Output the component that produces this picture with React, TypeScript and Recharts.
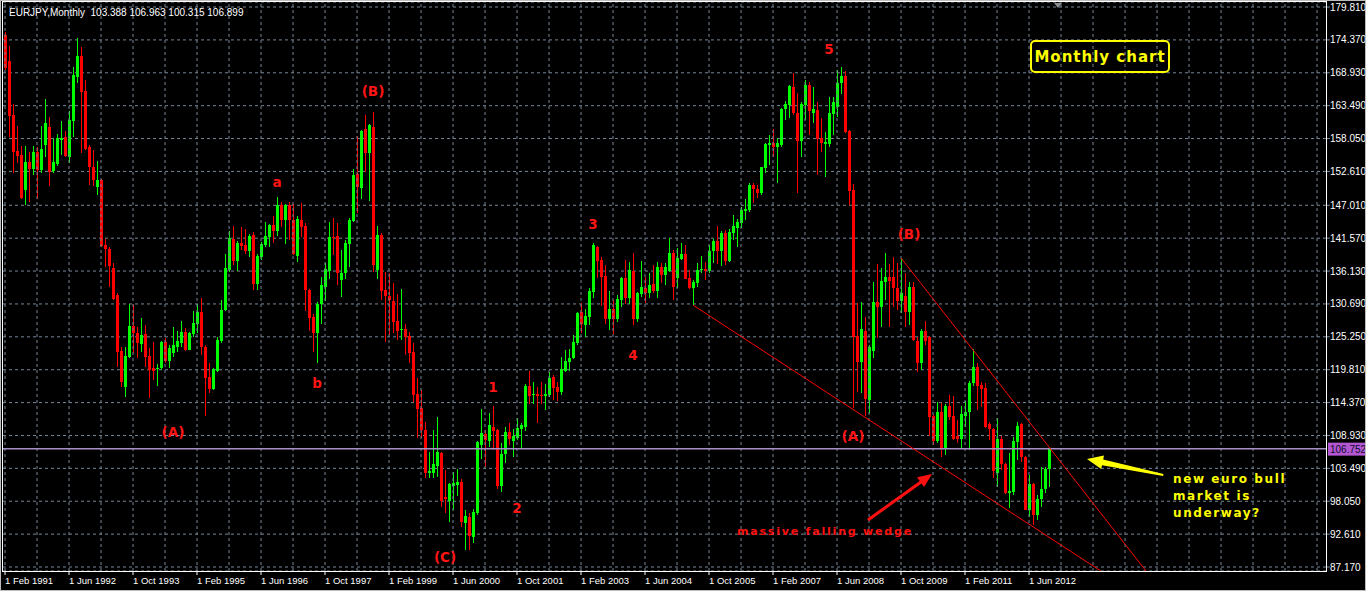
import React from 'react';
import {
  ComposedChart, Bar, XAxis, YAxis, CartesianGrid, ReferenceLine, ReferenceDot
} from 'recharts';

// EURJPY monthly candles, Feb 1991 .. Nov 2012
const opens = [
  175.2, 170.9, 161.9, 156.0, 155.3, 149.5, 154.2, 153.0, 155.8, 152.8, 157.0, 160.0, 152.7, 153.8, 157.8, 158.3,
  155.0, 161.0, 168.2, 171.7, 165.9, 156.7, 153.3, 150.0, 151.2, 140.4, 139.8, 136.6, 132.2, 122.9, 117.0, 121.9,
  127.0, 125.9, 124.1, 125.7, 122.1, 120.1, 119.9, 120.1, 124.4, 121.3, 122.6, 123.6, 124.2, 126.0, 123.1, 125.7,
  127.4, 129.4, 123.6, 118.6, 116.6, 119.6, 124.6, 129.7, 136.3, 141.4, 137.8, 140.8, 140.4, 139.5, 142.1, 134.0,
  138.5, 140.4, 141.8, 143.8, 142.8, 147.1, 144.6, 147.1, 144.6, 138.6, 144.6, 143.6, 133.0, 128.5, 125.9, 130.7,
  133.5, 136.1, 141.8, 141.9, 134.7, 135.8, 140.6, 144.4, 152.2, 149.9, 159.6, 155.7, 160.0, 136.3, 142.1, 133.0,
  132.0, 131.2, 127.9, 126.4, 126.5, 125.4, 122.7, 115.8, 113.5, 109.8, 102.7, 102.7, 103.9, 106.0, 98.8, 98.1,
  100.6, 100.7, 101.2, 94.5, 95.4, 92.1, 96.1, 107.4, 109.2, 108.0, 110.3, 109.8, 100.6, 105.9, 109.5, 108.0,
  108.5, 110.0, 110.3, 117.1, 115.6, 115.8, 115.6, 115.5, 115.6, 118.6, 116.9, 116.1, 119.6, 121.1, 121.8, 124.2,
  129.4, 127.2, 128.5, 132.7, 140.1, 138.0, 135.3, 128.2, 129.9, 128.2, 131.3, 135.0, 131.7, 136.1, 128.2, 132.3,
  133.3, 132.5, 134.0, 132.8, 136.8, 135.5, 136.1, 139.1, 135.0, 138.1, 139.0, 135.0, 133.3, 134.2, 136.4, 136.5,
  136.1, 139.5, 141.1, 139.5, 142.4, 137.8, 142.4, 143.3, 144.1, 146.1, 146.2, 150.4, 149.7, 149.0, 153.2, 157.0,
  157.3, 156.7, 157.0, 162.9, 163.6, 166.6, 162.3, 157.6, 163.6, 166.9, 162.3, 162.8, 158.1, 157.2, 157.2, 162.1,
  163.3, 167.2, 168.4, 159.3, 149.5, 125.4, 121.1, 126.2, 114.8, 122.9, 131.0, 130.2, 134.3, 135.2, 135.2, 133.3,
  131.2, 132.0, 129.4, 133.5, 124.6, 120.9, 126.2, 125.2, 112.2, 108.0, 112.8, 106.9, 113.8, 112.2, 108.8, 108.4,
  112.2, 112.8, 117.6, 120.3, 117.3, 116.8, 110.8, 110.0, 102.7, 108.4, 104.2, 99.4, 99.6, 107.9, 110.8, 105.4,
  96.6, 100.9, 95.8, 98.4, 100.1, 103.388
];
const highs = [
  175.7, 173.4, 163.8, 160.1, 156.8, 156.8, 155.8, 156.8, 156.7, 160.1, 164.6, 161.6, 158.0, 158.8, 161.0, 159.3,
  162.6, 169.9, 174.7, 173.2, 167.7, 157.0, 156.2, 154.3, 151.4, 141.4, 140.1, 137.5, 132.5, 123.6, 123.6, 130.7,
  130.7, 126.9, 128.4, 127.2, 123.4, 124.4, 120.8, 124.6, 125.1, 123.9, 126.9, 126.2, 127.9, 126.7, 126.0, 129.5,
  130.7, 131.7, 123.9, 120.9, 120.1, 125.2, 131.3, 139.0, 142.8, 143.6, 141.1, 143.4, 143.1, 142.3, 142.6, 139.0,
  140.9, 144.2, 143.9, 145.2, 148.4, 147.6, 147.2, 147.6, 147.2, 145.2, 147.4, 144.1, 133.2, 129.0, 131.0, 135.2,
  137.5, 144.2, 144.9, 144.1, 139.6, 141.3, 144.9, 153.0, 158.5, 159.5, 161.9, 160.4, 162.4, 143.6, 142.4, 136.0,
  135.8, 134.2, 132.3, 133.2, 127.4, 126.0, 124.2, 118.4, 116.5, 111.2, 106.2, 109.8, 112.0, 106.2, 103.2, 101.1,
  102.9, 103.4, 101.7, 96.6, 96.1, 96.8, 108.0, 113.3, 109.8, 112.6, 113.8, 110.0, 107.7, 110.3, 111.0, 110.0,
  111.8, 111.0, 117.4, 119.6, 117.8, 117.0, 117.8, 117.4, 119.4, 118.9, 117.8, 121.9, 123.1, 123.2, 125.6, 129.4,
  130.9, 129.9, 133.3, 140.8, 140.3, 138.5, 137.1, 132.8, 131.3, 132.2, 135.2, 138.0, 137.6, 139.1, 132.7, 137.8,
  135.2, 135.8, 137.1, 137.6, 137.5, 137.5, 141.6, 139.6, 139.9, 140.8, 140.4, 136.3, 134.6, 137.5, 138.6, 137.6,
  140.4, 141.4, 143.6, 142.8, 142.9, 143.1, 145.4, 144.7, 146.7, 148.1, 150.7, 150.7, 150.4, 153.4, 157.3, 158.6,
  159.6, 158.1, 163.1, 164.3, 166.9, 168.9, 165.6, 164.1, 167.7, 167.4, 166.6, 164.1, 161.5, 159.1, 164.9, 164.9,
  169.4, 169.9, 169.2, 159.5, 150.5, 130.9, 131.0, 128.5, 123.9, 134.3, 137.3, 136.6, 139.1, 137.3, 138.5, 137.5,
  138.3, 135.8, 134.3, 134.3, 125.2, 126.5, 127.9, 125.4, 112.3, 114.5, 114.3, 114.1, 115.6, 115.5, 111.5, 113.8,
  114.6, 117.9, 123.2, 120.9, 117.8, 117.6, 111.2, 110.1, 111.8, 108.8, 104.4, 106.0, 108.7, 111.2, 111.0, 105.5,
  102.4, 101.1, 99.1, 103.7, 103.7, 106.963
];
const lows = [
  169.4, 158.3, 152.4, 154.0, 148.0, 147.1, 147.6, 152.0, 148.1, 152.4, 155.0, 150.2, 152.4, 153.5, 155.3, 155.0,
  154.0, 158.3, 167.2, 155.7, 156.2, 150.4, 150.2, 148.6, 140.1, 136.8, 133.5, 131.3, 120.3, 117.0, 115.3, 121.8,
  122.6, 121.8, 122.7, 120.3, 115.1, 118.1, 117.1, 119.8, 120.9, 120.1, 121.9, 122.7, 123.6, 122.9, 123.0, 125.2,
  125.9, 122.2, 112.2, 116.0, 116.5, 119.4, 124.2, 129.5, 136.0, 137.1, 136.1, 139.6, 139.0, 138.5, 133.0, 133.0,
  138.0, 140.1, 140.1, 140.8, 141.9, 143.4, 140.6, 141.3, 138.8, 137.6, 141.8, 129.5, 126.2, 122.7, 120.9, 127.5,
  131.2, 134.7, 138.8, 133.8, 131.8, 134.8, 136.8, 144.2, 145.7, 148.1, 152.5, 147.6, 136.0, 134.8, 131.3, 124.4,
  125.6, 125.9, 124.7, 124.7, 122.2, 120.9, 114.5, 108.4, 108.5, 101.9, 101.9, 101.9, 102.1, 97.1, 96.1, 94.6,
  96.6, 98.9, 93.8, 90.0, 90.0, 91.1, 95.8, 105.0, 103.7, 107.0, 106.5, 100.1, 99.6, 104.4, 107.4, 105.4,
  108.2, 106.9, 109.7, 114.1, 114.1, 111.0, 114.1, 113.1, 115.3, 114.8, 114.6, 115.6, 119.4, 119.6, 121.6, 123.9,
  125.9, 125.2, 127.2, 131.7, 135.0, 130.4, 127.4, 126.4, 125.6, 127.7, 130.2, 130.7, 130.7, 127.2, 127.7, 131.8,
  130.9, 131.7, 132.5, 131.7, 134.2, 133.8, 136.0, 131.3, 133.3, 138.0, 134.7, 133.2, 130.5, 133.5, 135.8, 134.7,
  135.8, 137.5, 137.3, 137.0, 137.1, 137.6, 141.3, 140.1, 143.3, 144.7, 145.9, 147.4, 148.2, 148.7, 152.4, 153.7,
  155.0, 150.7, 156.7, 161.1, 161.5, 161.9, 149.0, 155.0, 161.1, 158.6, 160.6, 152.0, 155.8, 151.7, 156.7, 158.6,
  161.6, 165.4, 159.0, 147.1, 113.5, 116.1, 116.0, 112.2, 112.7, 121.8, 125.1, 126.9, 131.3, 126.9, 130.2, 129.7,
  129.2, 126.9, 127.2, 124.6, 119.4, 119.8, 123.9, 108.8, 107.4, 107.7, 105.4, 105.7, 111.5, 108.2, 107.7, 106.9,
  110.3, 106.5, 117.0, 113.1, 113.6, 110.2, 108.2, 101.9, 100.4, 103.2, 99.3, 96.9, 99.1, 104.9, 104.5, 96.5,
  95.4, 94.1, 95.0, 97.1, 99.4, 100.315
];
const closes = [
  169.7, 161.8, 155.8, 155.2, 148.2, 154.2, 153.0, 155.8, 152.8, 156.3, 160.6, 152.5, 154.2, 158.1, 158.1, 155.2,
  161.1, 168.6, 171.7, 165.8, 156.3, 153.3, 151.2, 151.2, 140.3, 139.8, 137.0, 131.5, 122.7, 117.8, 122.1, 127.0,
  125.9, 124.2, 125.6, 121.9, 119.8, 119.6, 120.1, 124.4, 121.3, 123.4, 123.9, 124.6, 126.0, 123.1, 125.9, 127.5,
  129.4, 123.6, 118.4, 116.6, 119.9, 124.7, 129.7, 136.6, 141.6, 137.8, 140.8, 140.3, 139.5, 141.9, 134.0, 138.6,
  140.6, 141.9, 143.8, 142.8, 147.1, 144.6, 147.1, 144.6, 139.0, 144.7, 143.4, 133.0, 128.4, 125.9, 130.7, 133.8,
  136.5, 141.8, 141.6, 135.8, 135.8, 140.8, 144.6, 152.0, 150.0, 159.3, 155.7, 160.3, 137.1, 142.1, 132.8, 132.0,
  131.3, 127.7, 126.2, 126.5, 125.2, 122.6, 115.6, 113.3, 109.8, 102.7, 103.1, 104.2, 106.2, 98.1, 98.4, 100.9,
  101.1, 101.2, 94.6, 95.6, 92.3, 96.3, 107.9, 109.3, 108.2, 110.7, 109.7, 100.6, 105.9, 109.5, 108.4, 108.8,
  110.2, 110.7, 117.1, 115.5, 115.8, 115.5, 115.5, 115.8, 118.4, 116.8, 116.1, 119.9, 121.3, 121.8, 124.4, 129.2,
  127.4, 128.7, 132.8, 140.4, 137.8, 135.2, 128.2, 129.9, 128.2, 131.5, 135.0, 131.7, 136.3, 128.2, 132.5, 133.5,
  132.5, 133.8, 132.8, 136.8, 135.5, 136.8, 139.1, 133.5, 138.3, 139.0, 134.8, 133.3, 134.3, 136.3, 136.5, 136.1,
  139.5, 141.1, 139.5, 142.4, 137.8, 142.6, 143.6, 144.2, 146.2, 146.4, 150.4, 149.7, 149.0, 153.3, 157.2, 157.3,
  156.7, 157.3, 162.9, 163.8, 166.7, 162.3, 157.6, 163.8, 166.9, 162.6, 162.9, 158.0, 157.3, 157.5, 162.3, 164.1,
  167.2, 168.4, 159.1, 149.4, 125.2, 121.1, 126.5, 115.0, 123.6, 131.0, 130.2, 134.5, 135.2, 134.5, 133.3, 131.2,
  132.5, 129.4, 133.5, 124.7, 120.9, 126.2, 124.6, 112.0, 108.0, 112.8, 106.9, 113.8, 112.0, 108.4, 108.4, 112.5,
  112.8, 117.6, 120.3, 117.1, 116.6, 110.3, 110.0, 103.1, 108.4, 104.2, 99.4, 99.8, 108.0, 110.5, 105.4, 96.6,
  100.9, 95.8, 98.4, 100.1, 103.4, 106.899
];

const MONTH_NAMES = ['Jan', 'Feb', 'Mar', 'Apr', 'May', 'Jun', 'Jul', 'Aug', 'Sep', 'Oct', 'Nov', 'Dec'];
const FIRST_YEAR = 1991;
const FIRST_MONTH = 1; // Feb
const SLOTS = 331; // bars plus empty space to the right

const months = Array.from({ length: SLOTS }, (_, i) => {
  const m = FIRST_MONTH + i;
  return `1 ${MONTH_NAMES[m % 12]} ${FIRST_YEAR + Math.floor(m / 12)}`;
});

const dateTicks = [
  '1 Feb 1991', '1 Jun 1992', '1 Oct 1993', '1 Feb 1995', '1 Jun 1996', '1 Oct 1997', '1 Feb 1999',
  '1 Jun 2000', '1 Oct 2001', '1 Feb 2003', '1 Jun 2004', '1 Oct 2005', '1 Feb 2007', '1 Jun 2008',
  '1 Oct 2009', '1 Feb 2011', '1 Jun 2012'
];
const gridMonths = months.filter((_, i) => i % 8 === 0);

const priceTicks = [
  179.81, 174.37, 168.93, 163.49, 158.05, 152.61, 147.01, 141.57, 136.13,
  130.69, 125.25, 119.81, 114.37, 108.93, 103.49, 98.05, 92.61, 87.17
];
const bidPrice = 106.752;

// wedge lines: [bar index, price]
const upperWedge = [[224, 138.3], [290, 82.5]];
const lowerWedge = [[172, 130.5], [275, 86.06]];

// wave labels: [bar index, price, text]
const waveLabels: [number, number, string][] = [
  [42, 109.5, '(A)'], [68, 150.9, 'a'], [78, 117.6, 'b'], [92, 165.9, '(B)'], [110, 88.8, '(C)'],
  [122, 117.0, '1'], [128, 96.9, '2'], [147, 143.9, '3'], [157, 122.2, '4'], [206, 172.9, '5'],
  [212, 108.8, '(A)'], [226, 142.3, '(B)']
];
const notes: [number, number, string, string][] = [
  [183, 93.1, 'massive falling wedge', '#ff1010'],
  [292, 101.7, 'new euro bull', '#ffff00'],
  [292, 98.9, 'market is', '#ffff00'],
  [292, 96.1, 'underway?', '#ffff00']
];

const data = months.map((month, i) => ({
  month, o: opens[i], h: highs[i], l: lows[i], c: closes[i]
}));

const UP = '#00ff00';
const DOWN = '#ff0000';
const GRID = '#778899';

const Candle = (props: any) => {
  const { x, width, payload } = props;
  let { y, height } = props;
  if (!payload || payload.o == null || !height) return null;
  if (height < 0) { y += height; height = -height; }
  const { o, h, l, c } = payload;
  const k = height / (h - l);
  const yOf = (v: number) => y + (h - v) * k;
  const color = c >= o ? UP : DOWN;
  const cx = Math.floor(x + width / 2);
  const top = Math.round(yOf(Math.max(o, c)));
  const bot = Math.round(yOf(Math.min(o, c)));
  return (
    <g>
      <rect x={cx} y={Math.round(y)} width={1} height={Math.max(1, Math.round(height))} fill={color} />
      <rect x={cx - 1} y={top} width={3} height={Math.max(1, bot - top)} fill={color} />
    </g>
  );
};

const PriceTick = ({ x, y, payload }: any) => (
  <text x={x} y={y} dy={3.5} fill="#ffffff" fontSize={10} fontFamily="Liberation Sans, Arial" textAnchor="start">
    {Number(payload.value).toFixed(3)}
  </text>
);

const DateTick = ({ x, y, payload }: any) => (
  <text x={x} y={y} dy={9} fill="#ffffff" fontSize={9.5} fontFamily="Liberation Sans, Arial" textAnchor="start">
    {payload.value}
  </text>
);

const BidLabel = ({ viewBox }: any) => {
  if (!viewBox) return null;
  const bx = viewBox.x + viewBox.width + 1;
  return (
    <g>
      <rect x={bx} y={viewBox.y - 6} width={38} height={13} fill="#b457d3" />
      <text x={bx + 2} y={viewBox.y + 4} fill="#0a0a28" fontSize={10} fontFamily="Liberation Sans, Arial">
        {bidPrice.toFixed(3)}
      </text>
    </g>
  );
};

const textShape = (text: string, color: string, size: number, anchor: string, spacing = 0) => (p: any) => (
  <text
    x={p.cx} y={p.cy} fill={color} fontSize={size} fontWeight="bold" fontFamily="DejaVu Sans, Verdana"
    textAnchor={anchor} dominantBaseline="central" letterSpacing={spacing}
  >
    {text}
  </text>
);

const App: React.FC = () => {
  return (
    <div style={{ position: 'fixed', left: 0, top: 0, width: 1366, height: 591, background: '#000' }}>
      <ComposedChart
        width={1366}
        height={591}
        data={data}
        margin={{ top: 2, right: 0, bottom: 0, left: 3 }}
        barCategoryGap={0}
        barGap={0}
      >
        <CartesianGrid stroke={GRID} strokeDasharray="3 3" vertical={false} />
        {gridMonths.map((m) => (
          <ReferenceLine key={m} x={m} stroke={GRID} strokeDasharray="3 3" />
        ))}
        <XAxis
          dataKey="month"
          type="category"
          ticks={dateTicks}
          interval={0}
          height={20}
          axisLine={false}
          tickLine={{ stroke: '#ffffff' }}
          tickSize={4}
          tickMargin={0}
          tick={<DateTick />}
        />
        <YAxis
          orientation="right"
          type="number"
          domain={[86.51, 180.64]}
          allowDataOverflow
          ticks={priceTicks}
          interval={0}
          width={39}
          axisLine={false}
          tickLine={{ stroke: GRID }}
          tickSize={3}
          tickMargin={0}
          tick={<PriceTick />}
        />
        <Bar
          dataKey={(d: any) => (d.h == null ? null : [d.l, d.h])}
          shape={<Candle />}
          isAnimationActive={false}
        />
        <ReferenceLine y={bidPrice} stroke="#a98fc9" strokeWidth={1.5} label={<BidLabel />} />
        <ReferenceLine
          segment={[{ x: months[upperWedge[0][0]], y: upperWedge[0][1] }, { x: months[upperWedge[1][0]], y: upperWedge[1][1] }]}
          stroke="#ff0000"
          ifOverflow="hidden"
        />
        <ReferenceLine
          segment={[{ x: months[lowerWedge[0][0]], y: lowerWedge[0][1] }, { x: months[lowerWedge[1][0]], y: lowerWedge[1][1] }]}
          stroke="#ff0000"
          ifOverflow="hidden"
        />
        {waveLabels.map(([i, p, t], k) => (
          <ReferenceDot key={`w${k}`} x={months[i]} y={p} r={0} shape={textShape(t, '#ff1414', 13.5, 'middle')} />
        ))}
        <ReferenceDot x={months[notes[0][0]]} y={notes[0][1]} r={0} shape={textShape(notes[0][2], notes[0][3], 11, 'start', 1.8)} />
        {notes.slice(1).map(([i, p, t, col], k) => (
          <ReferenceDot key={`n${k}`} x={months[i]} y={p} r={0} shape={textShape(t, col, 12, 'start', 1.6)} />
        ))}
      </ComposedChart>

      <svg width={1366} height={591} style={{ position: 'absolute', left: 0, top: 0, pointerEvents: 'none' }}>
        <rect x={0.5} y={0.5} width={1365} height={590} fill="none" stroke="#bdbdbd" />
        <rect x={2.5} y={1.5} width={1324} height={570} fill="none" stroke="#ffffff" />
        <text x={9} y={16} fill="#ffffff" fontSize={10} fontFamily="Liberation Sans, Arial" style={{ whiteSpace: 'pre' }}>
          {'EURJPY,Monthly  103.388 106.963 100.315 106.899'}
        </text>
        <polygon points="1054,3 1062,3 1058,8" fill="#8c8c8c" />
        {/* red arrow toward the wedge */}
        <polygon
          points="932,474 917.1,477.3 919.7,481 867.1,518.8 868.9,521.2 921.5,483.4 924.1,487.1"
          fill="#ff1010"
        />
        {/* yellow arrow toward the last bar */}
        <polygon
          points="1087,459 1104,455.5 1103.2,459.4 1163.5,474.1 1163.1,476.1 1102,465.2 1101.2,469.1"
          fill="#ffff00"
        />
        <rect x={1031} y={41} width={138} height={31} rx={4} fill="none" stroke="#ffff00" strokeWidth={2} />
        <text
          x={1100} y={57} fill="#ffff00" fontSize={15} fontWeight="bold" fontFamily="DejaVu Sans, Verdana"
          textAnchor="middle" dominantBaseline="central" letterSpacing={1}
        >
          Monthly chart
        </text>
      </svg>
    </div>
  );
};

export default App;
